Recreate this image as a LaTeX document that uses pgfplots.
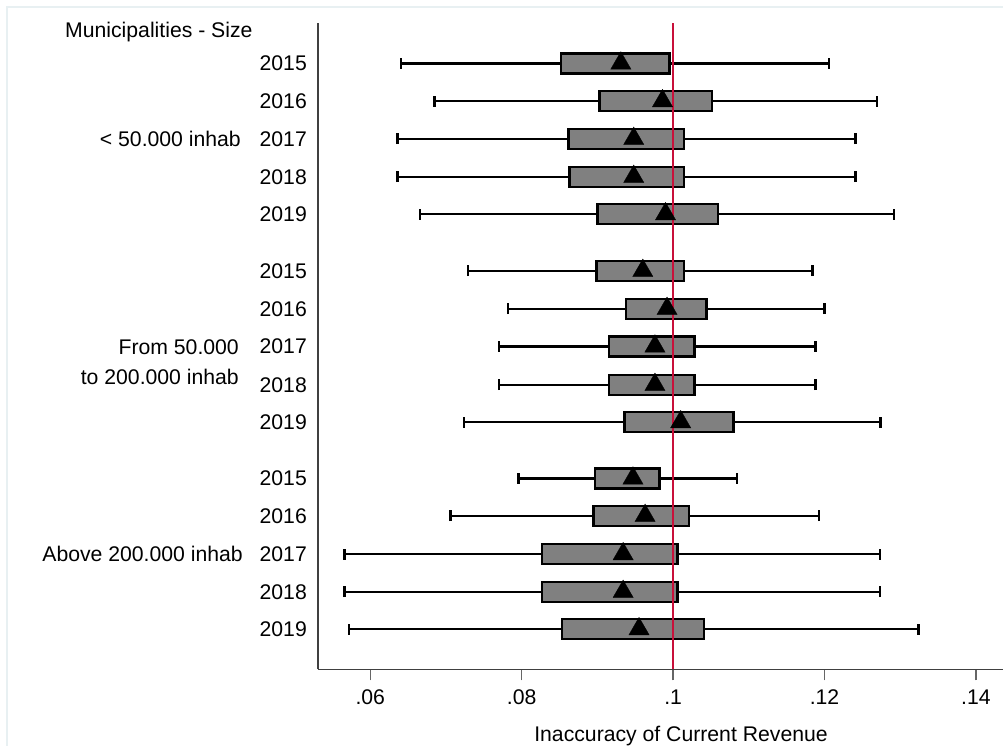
\documentclass[border=0pt]{standalone}
\usepackage{fontspec}
\setmainfont{Liberation Sans}
\usepackage{pgfplots}
\pgfplotsset{compat=1.18}
\usepgfplotslibrary{statistics}
\definecolor{boxgray}{RGB}{128,128,128}
\definecolor{refred}{RGB}{200,16,58}
\definecolor{framec}{RGB}{232,240,242}
\begin{document}
\fontsize{21.2}{25}\selectfont
\begin{tikzpicture}
\path[use as bounding box] (0,0) rectangle (1003pt,-745pt);
\draw[framec, line width=1.2pt] (7pt,-760pt) -- (7pt,-7pt) -- (1020pt,-7pt);
\begin{axis}[
  at={(318pt,-669.3pt)}, anchor=south west,
  scale only axis, width=685pt, height=646.3pt,
  xmin=0.0531, xmax=0.14357, ymin=-669.3, ymax=-23,
  axis x line=bottom, axis y line=left,
  axis line style={-, line width=1.6pt, black!75},
  xtick={0.06,0.08,0.1,0.12,0.14}, xticklabels={.06,.08,.1,.12,.14},
  ytick={-63.3,-101,-138.7,-176.7,-214,-270.7,-308.7,-346.3,-384.7,-422,-478.3,-515.7,-554,-591.7,-629},
  yticklabels={2015,2016,2017,2018,2019,2015,2016,2017,2018,2019,2015,2016,2017,2018,2019},
  tick align=outside, major tick length=11pt,
  xtick style={line width=1.4pt, black!60},
  ytick style={draw=none},
  xticklabel style={inner sep=0pt, anchor=north, yshift=-9pt},
  yticklabel style={inner sep=0pt, anchor=east},
  boxplot/draw direction=x,
  boxplot/box extend=20,
  boxplot/whisker extend=11,
  boxplot/every box/.style={fill=boxgray, draw=black, line width=2.4pt},
  boxplot/every whisker/.style={draw=black, line width=2.4pt},
  boxplot/every median/.style={draw=none},
  clip=false,
]
% group 1: < 50.000 inhab
\addplot[boxplot prepared={lower whisker=0.0641, lower quartile=0.0852, median=0.0852, upper quartile=0.0995, upper whisker=0.1206, draw position=-63.3}] coordinates {};
\addplot[boxplot prepared={lower whisker=0.0685, lower quartile=0.0903, median=0.0903, upper quartile=0.1051, upper whisker=0.1269, draw position=-101}] coordinates {};
\addplot[boxplot prepared={lower whisker=0.0636, lower quartile=0.0862, median=0.0862, upper quartile=0.1014, upper whisker=0.1241, draw position=-138.7}] coordinates {};
\addplot[boxplot prepared={lower whisker=0.0636, lower quartile=0.0863, median=0.0863, upper quartile=0.1014, upper whisker=0.1241, draw position=-176.7}] coordinates {};
\addplot[boxplot prepared={lower whisker=0.0666, lower quartile=0.0900, median=0.0900, upper quartile=0.1059, upper whisker=0.1292, draw position=-214}] coordinates {};
% group 2: 50.000 - 200.000
\addplot[boxplot prepared={lower whisker=0.0729, lower quartile=0.0899, median=0.0899, upper quartile=0.1014, upper whisker=0.1184, draw position=-270.7}] coordinates {};
\addplot[boxplot prepared={lower whisker=0.0782, lower quartile=0.0938, median=0.0938, upper quartile=0.1044, upper whisker=0.1200, draw position=-308.7}] coordinates {};
\addplot[boxplot prepared={lower whisker=0.0770, lower quartile=0.0915, median=0.0915, upper quartile=0.1028, upper whisker=0.1188, draw position=-346.3}] coordinates {};
\addplot[boxplot prepared={lower whisker=0.0770, lower quartile=0.0915, median=0.0915, upper quartile=0.1028, upper whisker=0.1188, draw position=-384.7}] coordinates {};
\addplot[boxplot prepared={lower whisker=0.0724, lower quartile=0.0936, median=0.0936, upper quartile=0.1080, upper whisker=0.1274, draw position=-422}] coordinates {};
% group 3: above 200.000
\addplot[boxplot prepared={lower whisker=0.0796, lower quartile=0.0897, median=0.0897, upper quartile=0.0982, upper whisker=0.1084, draw position=-478.3}] coordinates {};
\addplot[boxplot prepared={lower whisker=0.0706, lower quartile=0.0895, median=0.0895, upper quartile=0.1021, upper whisker=0.1193, draw position=-515.7}] coordinates {};
\addplot[boxplot prepared={lower whisker=0.0566, lower quartile=0.0827, median=0.0827, upper quartile=0.1006, upper whisker=0.1273, draw position=-554}] coordinates {};
\addplot[boxplot prepared={lower whisker=0.0566, lower quartile=0.0827, median=0.0827, upper quartile=0.1006, upper whisker=0.1273, draw position=-591.7}] coordinates {};
\addplot[boxplot prepared={lower whisker=0.0572, lower quartile=0.0853, median=0.0853, upper quartile=0.1041, upper whisker=0.1324, draw position=-629}] coordinates {};
% reference line
\addplot[refred, line width=2pt] coordinates {(0.1,-669.3) (0.1,-23)};
% means
\addplot[only marks, mark=triangle*, mark size=11.7pt, mark options={fill=black, draw=black, line width=0.3pt}] coordinates {
(0.0931,-63.3) (0.0986,-101) (0.0948,-138.7) (0.0948,-176.7) (0.0990,-214)
(0.0960,-270.7) (0.0992,-308.7) (0.0976,-346.3) (0.0976,-384.7) (0.1010,-422)
(0.0947,-478.3) (0.0963,-515.7) (0.0934,-554) (0.0934,-591.7) (0.0955,-629)
};
\end{axis}
\node[anchor=base west, inner sep=0pt] at (65pt,-37pt) {Municipalities - Size};
\node[anchor=east, inner sep=0pt] at (241pt,-138.7pt) {< 50.000 inhab};
\node[anchor=east, inner sep=0pt] at (239pt,-346.7pt) {From 50.000};
\node[anchor=east, inner sep=0pt] at (239pt,-377pt) {to 200.000 inhab};
\node[anchor=east, inner sep=0pt] at (243pt,-554pt) {Above 200.000 inhab};
\node[anchor=base, inner sep=0pt] at (681pt,-741pt) {Inaccuracy of Current Revenue};
\end{tikzpicture}
\end{document}
